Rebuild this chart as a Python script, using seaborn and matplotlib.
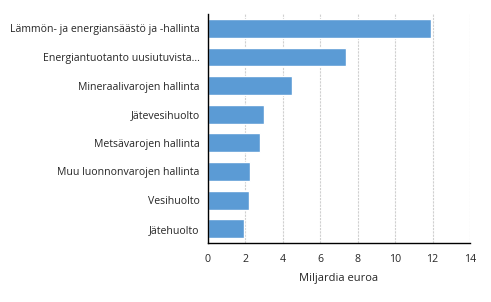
import pandas as pd
import seaborn as sns
import matplotlib.pyplot as plt

# Data
categories = ['Lämmön- ja energiansäästö ja -hallinta', 'Energiantuotanto uusiutuvista…',
              'Mineraalivarojen hallinta', 'Jätevesihuolto', 'Metsävarojen hallinta',
              'Muu luonnonvarojen hallinta', 'Vesihuolto', 'Jätehuolto']
values = [11.9, 7.38, 4.49, 3.0, 2.78, 2.25, 2.2, 1.93]

df = pd.DataFrame({'Kategoria': categories, 'Arvo': values})

sns.set_style('white')
plt.rcParams['font.family'] = ['Open Sans', 'DejaVu Sans']

fig = plt.figure(figsize=(4.91, 3.02), dpi=100)
ax = fig.add_axes([0.4236, 0.1954, 0.5335, 0.7582])

sns.barplot(data=df, x='Arvo', y='Kategoria', color='#5B9BD5', width=0.66,
            saturation=1, ax=ax)

ax.set_xlim(0, 14)
ax.set_xticks(range(0, 15, 2))
ax.xaxis.grid(True, color='#d0d0d0', linestyle=(0, (2, 1)), linewidth=0.8)
ax.set_axisbelow(True)
for s in ['top', 'right']:
    ax.spines[s].set_visible(False)
for s in ['left', 'bottom']:
    ax.spines[s].set_color('black')
    ax.spines[s].set_linewidth(1)

ax.tick_params(axis='both', length=0, labelsize=7.6, labelcolor='#262626', pad=8)
ax.tick_params(axis='y', pad=6)
ax.set_ylabel('')
ax.set_xlabel('Miljardia euroa', fontsize=8, color='#262626', labelpad=6)

fig.savefig('out.png', dpi=100)
